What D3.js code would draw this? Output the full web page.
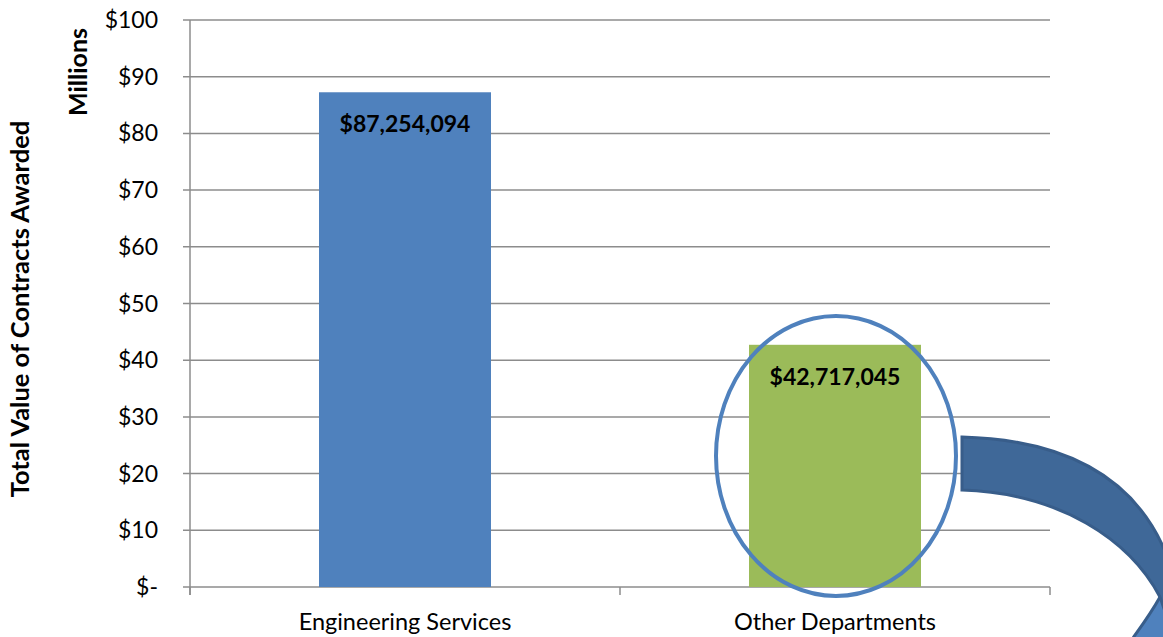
<!DOCTYPE html>
<html>
<head>
<meta charset="utf-8">
<script src="https://cdn.jsdelivr.net/npm/d3@7"></script>
<style>
  body { margin: 0; background: #fff; }
  text { font-family: Lato, "Open Sans", sans-serif; fill: #000; }
</style>
</head>
<body>
<svg id="chart"></svg>
<script>
// chart data
const categories = ["Engineering Services", "Other Departments"];
const values = [87254094, 42717045];
const colors = ["#4F81BD", "#9BBB59"];
const yTicks = [0, 10, 20, 30, 40, 50, 60, 70, 80, 90, 100];

const W = 1163, H = 637;
const margin = { top: 20, right: 113, bottom: 50, left: 190 };
const width = W - margin.left - margin.right;
const height = 587 - margin.top;

const svg = d3.select('#chart')
  .attr('width', W)
  .attr('height', H);

const g = svg.append('g')
  .attr('transform', `translate(${margin.left}, ${margin.top})`);

const xScale = d3.scaleBand()
  .domain(categories)
  .range([0, width])
  .paddingInner(0.6)
  .paddingOuter(0.3);

const yScale = d3.scaleLinear()
  .domain([0, 100])
  .range([height, 0]);

// gridlines
g.append('g')
  .selectAll('line')
  .data(yTicks)
  .enter()
  .append('line')
  .attr('x1', -7)
  .attr('x2', width)
  .attr('y1', d => yScale(d))
  .attr('y2', d => yScale(d))
  .attr('stroke', '#8c8c8c')
  .attr('stroke-width', 1.5);

// y axis line
g.append('line')
  .attr('x1', 0).attr('x2', 0)
  .attr('y1', 0).attr('y2', height + 8)
  .attr('stroke', '#8c8c8c')
  .attr('stroke-width', 1.5);

// category separator ticks
g.append('g')
  .selectAll('line')
  .data([0, 1, 2])
  .enter()
  .append('line')
  .attr('x1', d => d * width / 2)
  .attr('x2', d => d * width / 2)
  .attr('y1', height)
  .attr('y2', height + 8)
  .attr('stroke', '#8c8c8c')
  .attr('stroke-width', 1.5);

// tick labels
g.append('g')
  .selectAll('text')
  .data(yTicks)
  .enter()
  .append('text')
  .attr('x', -32)
  .attr('y', d => yScale(d))
  .attr('dy', '0.35em')
  .style('text-anchor', 'end')
  .style('font-size', '23px')
  .text(d => d === 0 ? '$-' : '$' + d);

// bars
const data = categories.map((c, i) => ({ cat: c, value: values[i] / 1e6, raw: values[i], color: colors[i] }));

g.selectAll('.bar')
  .data(data)
  .enter()
  .append('rect')
  .attr('class', 'bar')
  .attr('x', d => xScale(d.cat))
  .attr('width', xScale.bandwidth())
  .attr('y', d => yScale(d.value))
  .attr('height', d => height - yScale(d.value))
  .style('fill', d => d.color);

// data labels
g.selectAll('.label')
  .data(data)
  .enter()
  .append('text')
  .attr('class', 'label')
  .attr('x', d => xScale(d.cat) + xScale.bandwidth() / 2)
  .attr('y', d => yScale(d.value) + 40)
  .style('text-anchor', 'middle')
  .style('font-size', '23px')
  .style('font-weight', 'bold')
  .text(d => '$' + d3.format(',')(d.raw));

// category labels
g.selectAll('.cat')
  .data(categories)
  .enter()
  .append('text')
  .attr('class', 'cat')
  .attr('x', d => xScale(d) + xScale.bandwidth() / 2)
  .attr('y', height + 43)
  .style('text-anchor', 'middle')
  .style('font-size', '23.5px')
  .text(d => d);

// axis titles
svg.append('text')
  .attr('transform', 'translate(87, 72) rotate(-90)')
  .style('text-anchor', 'middle')
  .style('font-size', '25px')
  .style('font-weight', 'bold')
  .text('Millions');

svg.append('text')
  .attr('transform', 'translate(29, 309) rotate(-90)')
  .style('text-anchor', 'middle')
  .style('font-size', '25.5px')
  .style('font-weight', 'bold')
  .text('Total Value of Contracts Awarded');

// highlight ellipse around the second bar
const hx = margin.left + xScale(categories[1]) + xScale.bandwidth() / 2;
svg.append('ellipse')
  .attr('cx', hx + 1)
  .attr('cy', 456)
  .attr('rx', 120)
  .attr('ry', 140)
  .attr('fill', 'none')
  .attr('stroke', '#4F81BD')
  .attr('stroke-width', 4);

// curved callout arrow
svg.append('path')
  .attr('d', 'M1160,597 C1150,615 1140,628 1128,645 L1175,645 L1175,585 Z')
  .attr('fill', '#4F81BD')
  .attr('stroke', '#385D8A')
  .attr('stroke-width', 3);

svg.append('path')
  .attr('d', 'M962,437 C1075,440 1145,485 1172,570 L1175,640 L1160,597 C1130,540 1060,493 962,490 Z')
  .attr('fill', '#3F6898')
  .attr('stroke', '#385D8A')
  .attr('stroke-width', 3);
</script>
</body>
</html>
